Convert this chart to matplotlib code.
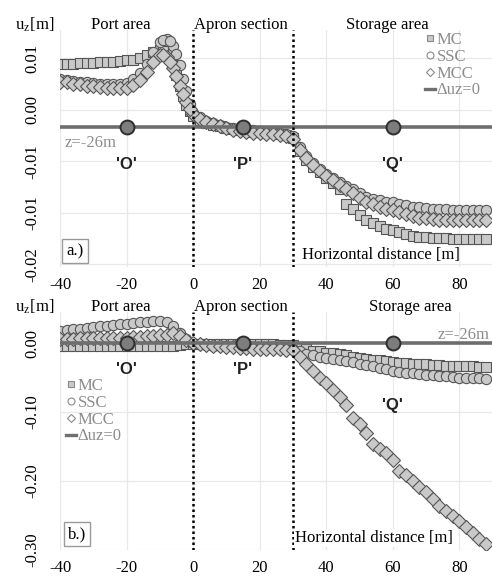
import numpy as np
import matplotlib
matplotlib.use("Agg")
import matplotlib.pyplot as plt
from matplotlib.lines import Line2D

# ------------------------------------------------------------
# data
# ------------------------------------------------------------
x_m = np.arange(-40, 90, 2)  # horizontal distance [m]

# panel a.) vertical displacement at z=-26m, in mm
uz_a_mc_mm = [9.2, 9.2, 9.2, 9.3, 9.3, 9.3, 9.4, 9.4, 9.5, 9.6, 9.7, 9.8, 10.0, 10.4, 10.9, 11.2, 10.8, 9.0, 6.0, 3.2, 1.6,
              1.0, 0.6, 0.3, 0.1, -0.1, -0.3, -0.5, -0.6, -0.7, -0.7, -0.8, -0.9, -1.0, -1.2, -1.6,
              -3.5, -4.8, -5.8, -6.6, -7.4, -8.2, -9.0, -11.2, -12.0, -12.8, -13.5, -14.0, -14.4, -14.8, -15.0,
              -15.3, -15.6, -15.9, -16.0, -16.1, -16.2, -16.2, -16.2, -16.3, -16.3, -16.3, -16.3, -16.3, -16.3]
uz_a_ssc_mm = [6.9, 6.8, 6.7, 6.6, 6.5, 6.4, 6.3, 6.2, 6.2, 6.2, 6.4, 6.9, 7.8, 9.2, 10.9, 12.3, 12.8, 11.8, 9.0, 5.2, 2.0,
               1.4, 0.9, 0.5, 0.2, 0.0, -0.2, -0.4, -0.5, -0.5, -0.6, -0.7, -0.8, -0.9, -1.1, -1.4,
               -3.0, -4.3, -5.3, -6.1, -6.8, -7.4, -8.0, -8.6, -9.0, -9.6, -10.2, -10.5, -10.7, -10.9, -11.0,
               -11.2, -11.4, -11.6, -11.7, -11.8, -11.9, -12.0, -12.0, -12.1, -12.1, -12.1, -12.1, -12.1, -12.1]
uz_a_mcc_mm = [6.6, 6.5, 6.3, 6.2, 6.0, 5.9, 5.8, 5.7, 5.6, 5.6, 5.7, 6.1, 6.8, 8.0, 9.4, 10.4, 10.2, 8.6, 6.0, 3.6, 1.8,
               1.2, 0.7, 0.4, 0.1, -0.2, -0.4, -0.6, -0.8, -0.9, -0.9, -1.0, -1.1, -1.2, -1.4, -1.8,
               -3.3, -4.6, -5.6, -6.4, -7.1, -7.8, -8.4, -9.0, -9.6, -10.3, -10.9, -11.3, -11.6, -11.9, -12.1,
               -12.4, -12.7, -13.0, -13.2, -13.3, -13.4, -13.5, -13.5, -13.6, -13.6, -13.6, -13.6, -13.6, -13.6]

# extra readings on the steep drop just before the quay wall (panel a.)
x_drop = [-9, -7, -5, -3, -1]
uz_a_mc_drop_mm = [11.1, 10.0, 7.6, 4.5, 2.3]
uz_a_ssc_drop_mm = [12.7, 12.5, 10.6, 7.0, 3.4]
uz_a_mcc_drop_mm = [10.4, 9.5, 7.4, 4.8, 2.6]

# panel b.) vertical displacement, in m
uz_b_mc = [-0.005, -0.005, -0.005, -0.005, -0.005, -0.005, -0.005, -0.005, -0.005, -0.005, -0.005, -0.005, -0.005,
           -0.005, -0.005, -0.005, -0.004, -0.004, -0.003, -0.002, -0.001,
           -0.001, -0.001, -0.001, -0.001, -0.001, -0.001, -0.002, -0.002, -0.002, -0.002, -0.002, -0.002, -0.003,
           -0.003, -0.003,
           -0.007, -0.009, -0.011, -0.012, -0.014, -0.015, -0.016, -0.018, -0.020, -0.021, -0.023, -0.024, -0.025,
           -0.026, -0.028, -0.029, -0.029, -0.030, -0.031, -0.031, -0.032, -0.032, -0.033, -0.033, -0.034, -0.034,
           -0.034, -0.035, -0.035]
uz_b_ssc = [0.018, 0.019, 0.020, 0.021, 0.022, 0.023, 0.024, 0.025, 0.026, 0.027, 0.028, 0.029, 0.030, 0.031,
            0.032, 0.032, 0.030, 0.024, 0.015, 0.006, 0.000,
            -0.002, -0.003, -0.004, -0.004, -0.005, -0.005, -0.006, -0.006, -0.006, -0.007, -0.007, -0.007, -0.008,
            -0.008, -0.008,
            -0.012, -0.016, -0.018, -0.020, -0.022, -0.023, -0.024, -0.026, -0.028, -0.030, -0.032, -0.034, -0.036,
            -0.038, -0.041, -0.042, -0.043, -0.044, -0.045, -0.046, -0.047, -0.048, -0.048, -0.049, -0.050, -0.050,
            -0.051, -0.051, -0.052]
uz_b_mcc = [0.006, 0.006, 0.006, 0.007, 0.007, 0.007, 0.007, 0.008, 0.008, 0.008, 0.008, 0.009, 0.009, 0.010,
            0.010, 0.011, 0.012, 0.014, 0.010, 0.005, 0.000,
            -0.002, -0.003, -0.004, -0.005, -0.006, -0.006, -0.007, -0.007, -0.008, -0.008, -0.009, -0.009, -0.009,
            -0.010, -0.010,
            -0.020, -0.030, -0.040, -0.050, -0.058, -0.068, -0.078, -0.090, -0.108, -0.118, -0.130, -0.146, -0.154,
            -0.160, -0.170, -0.186, -0.192, -0.200, -0.208, -0.216, -0.226, -0.236, -0.244, -0.250, -0.258, -0.266,
            -0.276, -0.284, -0.292]

# reference points on z=-26m
ref_names = ["'O'", "'P'", "'Q'"]
ref_x = [-20, 15, 60]

x_ticks = [-40, -20, 0, 20, 40, 60, 80]
a_yticks = [0.01, 0.0025, -0.005, -0.0125, -0.02]
a_yticklabels = ["0.01", "0.00", "-0.01", "-0.01", "-0.02"]
b_yticks = [0.0, -0.10, -0.20, -0.30]
b_yticklabels = ["0.00", "-0.10", "-0.20", "-0.30"]

area_names = ["Port area", "Apron section", "Storage area"]
section_bounds = [0, 30]

# ------------------------------------------------------------
# style
# ------------------------------------------------------------
plt.rcParams["font.family"] = ["Liberation Serif", "DejaVu Serif"]
plt.rcParams["mathtext.fontset"] = "stix"
plt.rcParams["font.size"] = 12
plt.rcParams["axes.unicode_minus"] = False

W, H = 492, 576
fig = plt.figure(figsize=(W / 100, H / 100), dpi=100)


def fx(px):
    return px / W


def fy(py):
    return 1 - py / H


ax_a = fig.add_axes([fx(60), fy(267), fx(432), (267 - 30) / H])
ax_b = fig.add_axes([fx(60), fy(550), fx(432), (550 - 312) / H])

mk_face = "#c9c9c9"
mk_edge = "#555555"
series_style = {"MC": "s", "SSC": "o", "MCC": "D"}
sans_bold = dict(family=["Liberation Sans", "DejaVu Sans"], fontweight="bold", fontsize=12, color="#222222")
gray_txt = "#8c8c8c"


def draw_panel(ax, ylim, yticks, yticklabels, curves):
    ax.set_xlim(-40, 89.8)
    ax.set_ylim(*ylim)
    ax.set_xticks(x_ticks)
    ax.set_yticks(yticks)
    ax.set_yticklabels(yticklabels, rotation=90, va="center")
    ax.tick_params(length=0, labelsize=12)
    ax.tick_params(axis="y", pad=14)
    ax.tick_params(axis="x", pad=7)
    ax.grid(True, color="#e8e8e8", lw=0.9)
    ax.set_axisbelow(True)
    for sp in ax.spines.values():
        sp.set_visible(False)

    for name, xs, vals in curves:
        ms = 7.4 if series_style[name] != "D" else 6.8
        ax.plot(xs, vals, ls="none", marker=series_style[name], ms=ms,
                mfc=mk_face, mec=mk_edge, mew=0.8, zorder=3)

    ax.axhline(0, color="#6e6e6e", lw=2.6, zorder=4)
    ax.plot(ref_x, [0] * len(ref_x), ls="none", marker="o", ms=10,
            mfc="#7d7d7d", mec="#2e2e2e", mew=1.4, zorder=5)
    for xb in section_bounds:
        ax.axvline(xb, color="black", ls=(0, (1, 1.2)), lw=1.8, zorder=6)


draw_panel(ax_a, (-0.0204, 0.0141), a_yticks, a_yticklabels,
           [("MC", x_m, np.array(uz_a_mc_mm) / 1000), ("MC", x_drop, np.array(uz_a_mc_drop_mm) / 1000),
            ("SSC", x_m, np.array(uz_a_ssc_mm) / 1000), ("SSC", x_drop, np.array(uz_a_ssc_drop_mm) / 1000),
            ("MCC", x_m, np.array(uz_a_mcc_mm) / 1000), ("MCC", x_drop, np.array(uz_a_mcc_drop_mm) / 1000)])
draw_panel(ax_b, (-0.300, 0.045), b_yticks, b_yticklabels,
           [("MC", x_m, uz_b_mc), ("SSC", x_m, uz_b_ssc), ("MCC", x_m, uz_b_mcc)])

# reference point labels
for name, xr in zip(ref_names, ref_x):
    ax_a.text(xr, -0.0055, name, ha="center", va="center", zorder=7, **sans_bold)
for name, xr in zip(ref_names[:2], ref_x[:2]):
    ax_b.text(xr, -0.039, name, ha="center", va="center", zorder=7, **sans_bold)
ax_b.text(ref_x[2], -0.090, ref_names[2], ha="center", va="center", zorder=7, **sans_bold)

# headers above each panel
for top_py, storage_px in [(25, 387), (307, 410)]:
    fig.text(fx(35), fy(top_py), "u$_{\\rm z}$[m]", ha="center", va="center", fontsize=12)
    fig.text(fx(121), fy(top_py), area_names[0], ha="center", va="center", fontsize=12)
    fig.text(fx(241), fy(top_py), area_names[1], ha="center", va="center", fontsize=12)
    fig.text(fx(storage_px), fy(top_py), area_names[2], ha="center", va="center", fontsize=12)

fig.text(fx(65), fy(143), "z=-26m", ha="left", va="center", color=gray_txt, fontsize=12)
fig.text(fx(490), fy(335), "z=-26m", ha="right", va="center", color=gray_txt, fontsize=12)

fig.text(fx(302), fy(255), "Horizontal distance [m]", ha="left", va="center", fontsize=12, zorder=8)
fig.text(fx(295), fy(538), "Horizontal distance [m]", ha="left", va="center", fontsize=12, zorder=8,
         bbox=dict(facecolor="white", edgecolor="none", pad=0.5))

box = dict(boxstyle="square,pad=0.25", facecolor="white", edgecolor="#9a9a9a", lw=1)
fig.text(fx(75), fy(251), "a.)", ha="center", va="center", fontsize=12, bbox=box)
fig.text(fx(77), fy(534), "b.)", ha="center", va="center", fontsize=12, bbox=box)

# legends
handles = [Line2D([], [], ls="none", marker="s", ms=5, mfc=mk_face, mec="#8a8a8a", mew=0.8),
           Line2D([], [], ls="none", marker="o", ms=5, mfc="white", mec="#8a8a8a", mew=0.8),
           Line2D([], [], ls="none", marker="D", ms=4.5, mfc="white", mec="#8a8a8a", mew=0.8),
           Line2D([], [], color="#707070", lw=2.4)]
labels = ["MC", "SSC", "MCC", "\u0394uz=0"]
for ax, anchor, loc in [(ax_a, (fx(425), fy(32)), "upper left"), (ax_b, (fx(66), fy(378)), "upper left")]:
    leg = ax.legend(handles, labels, loc=loc, bbox_to_anchor=anchor, bbox_transform=fig.transFigure,
                    frameon=False, handlelength=0.6, handletextpad=0.1, labelspacing=0.05,
                    borderpad=0, borderaxespad=0, fontsize=12, labelcolor=gray_txt)
    leg.set_zorder(9)

fig.savefig("out.png", dpi=100)
